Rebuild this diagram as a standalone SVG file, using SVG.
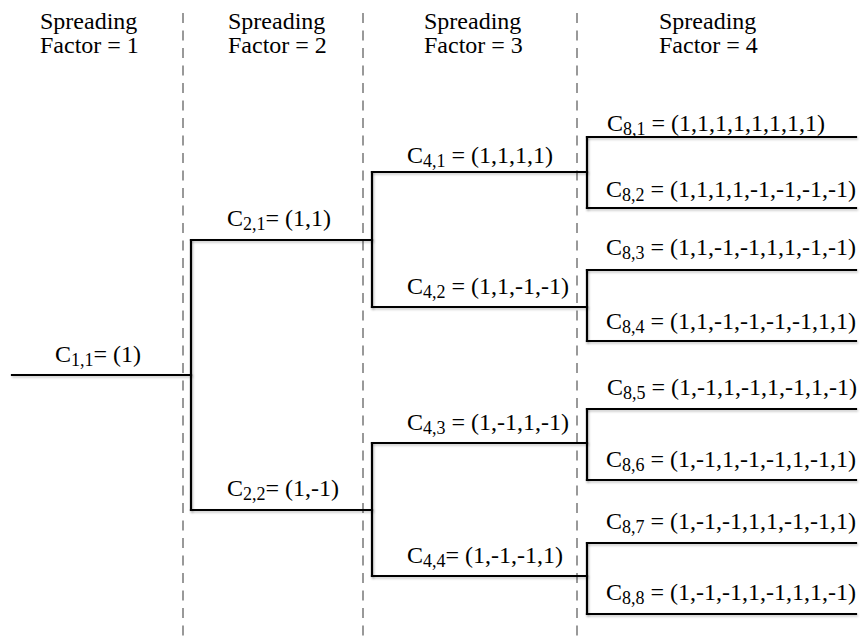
<svg xmlns="http://www.w3.org/2000/svg" width="862" height="639" viewBox="0 0 862 639">
<style>
text{font-family:"Liberation Serif","Times New Roman",serif;font-size:24px;fill:#000}
.sub{font-size:18px}
.ln{stroke:#000;stroke-width:2.2;fill:none;stroke-linecap:square;filter:url(#sh)}
.dash{stroke:#999;stroke-width:2;stroke-dasharray:10 7.5;fill:none}
</style>
<defs>
<filter id="sh" filterUnits="userSpaceOnUse" x="0" y="0" width="862" height="639">
<feDropShadow dx="1" dy="1.5" stdDeviation="1.2" flood-color="#000" flood-opacity="0.25"/>
</filter>
</defs>
<rect width="862" height="639" fill="#fff"/>
<g id="columns">
<line class="dash" x1="183" y1="13" x2="183" y2="639"/>
<line class="dash" x1="363" y1="13" x2="363" y2="639"/>
<line class="dash" x1="577" y1="13" x2="577" y2="639"/>
<text x="40" y="29">Spreading</text><text x="40" y="53">Factor = 1</text>
<text x="228" y="29">Spreading</text><text x="228" y="53">Factor = 2</text>
<text x="424" y="29">Spreading</text><text x="424" y="53">Factor = 3</text>
<text x="659" y="29">Spreading</text><text x="659" y="53">Factor = 4</text>
</g>
<g id="connectors">
<path class="ln" d="M191,240 V510"/>
<path class="ln" d="M372,172 V307 M372,443 V576"/>
<path class="ln" d="M587,137 V208 M587,270 V341 M587,409 V480 M587,543 V614"/>
</g>
<g id="c11"><path class="ln" d="M12,375 H191"/><text x="55" y="362">C<tspan class="sub" dy="4">1,1</tspan><tspan dy="-4">= (1)</tspan></text></g>
<g id="c21"><path class="ln" d="M191,240 H372"/><text x="227" y="226">C<tspan class="sub" dy="4">2,1</tspan><tspan dy="-4">= (1,1)</tspan></text></g>
<g id="c22"><path class="ln" d="M191,510 H372"/><text x="227" y="496">C<tspan class="sub" dy="4">2,2</tspan><tspan dy="-4">= (1,-1)</tspan></text></g>
<g id="c41"><path class="ln" d="M372,172 H587"/><text x="407" y="163">C<tspan class="sub" dy="4">4,1</tspan><tspan dy="-4"> = (1,1,1,1)</tspan></text></g>
<g id="c42"><path class="ln" d="M372,307 H587"/><text x="407" y="294">C<tspan class="sub" dy="4">4,2</tspan><tspan dy="-4"> = (1,1,-1,-1)</tspan></text></g>
<g id="c43"><path class="ln" d="M372,443 H587"/><text x="407" y="430">C<tspan class="sub" dy="4">4,3</tspan><tspan dy="-4"> = (1,-1,1,-1)</tspan></text></g>
<g id="c44"><path class="ln" d="M372,576 H587"/><text x="407" y="563">C<tspan class="sub" dy="4">4,4</tspan><tspan dy="-4">= (1,-1,-1,1)</tspan></text></g>
<g id="c81"><path class="ln" d="M587,137 H856"/><text x="607" y="131">C<tspan class="sub" dy="4">8,1</tspan><tspan dy="-4"> = (1,1,1,1,1,1,1,1)</tspan></text></g>
<g id="c82"><path class="ln" d="M587,208 H856"/><text x="606" y="197">C<tspan class="sub" dy="4">8,2</tspan><tspan dy="-4"> = (1,1,1,1,-1,-1,-1,-1)</tspan></text></g>
<g id="c83"><path class="ln" d="M587,270 H856"/><text x="606" y="255">C<tspan class="sub" dy="4">8,3</tspan><tspan dy="-4"> = (1,1,-1,-1,1,1,-1,-1)</tspan></text></g>
<g id="c84"><path class="ln" d="M587,341 H856"/><text x="606" y="329">C<tspan class="sub" dy="4">8,4</tspan><tspan dy="-4"> = (1,1,-1,-1,-1,-1,1,1)</tspan></text></g>
<g id="c85"><path class="ln" d="M587,409 H856"/><text x="607" y="395">C<tspan class="sub" dy="4">8,5</tspan><tspan dy="-4"> = (1,-1,1,-1,1,-1,1,-1)</tspan></text></g>
<g id="c86"><path class="ln" d="M587,480 H856"/><text x="606" y="467">C<tspan class="sub" dy="4">8,6</tspan><tspan dy="-4"> = (1,-1,1,-1,-1,1,-1,1)</tspan></text></g>
<g id="c87"><path class="ln" d="M587,543 H856"/><text x="606" y="529">C<tspan class="sub" dy="4">8,7</tspan><tspan dy="-4"> = (1,-1,-1,1,1,-1,-1,1)</tspan></text></g>
<g id="c88"><path class="ln" d="M587,614 H856"/><text x="606" y="600">C<tspan class="sub" dy="4">8,8</tspan><tspan dy="-4"> = (1,-1,-1,1,-1,1,1,-1)</tspan></text></g>
</svg>
